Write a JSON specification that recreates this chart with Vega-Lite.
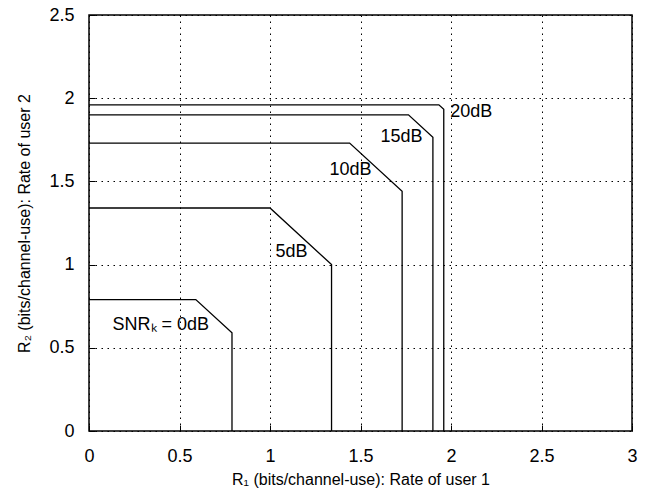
{
  "$schema": "https://vega.github.io/schema/vega-lite/v6.json",
  "width": 543,
  "height": 416,
  "autosize": "none",
  "padding": {"left": 89, "top": 15, "right": 21, "bottom": 67},
  "background": "white",
  "config": {
    "font": "Liberation Sans",
    "view": {"stroke": "black", "strokeWidth": 1.5},
    "axis": {
      "domain": false,
      "grid": true,
      "gridColor": "#000000",
      "gridDash": [1.5, 4.5],
      "gridWidth": 1,
      "gridOpacity": 1,
      "ticks": true,
      "tickSize": -6,
      "tickColor": "black",
      "tickWidth": 1,
      "labelFont": "Liberation Sans",
      "labelFontSize": 18,
      "labelColor": "black",
      "titleFont": "Liberation Sans",
      "titleFontSize": 16,
      "titleFontWeight": "normal",
      "titleColor": "black",
      "labelOverlap": false,
      "labelFlush": false,
      "labelBound": false
    }
  },
  "datasets": {
    "curves": [
      {"snr": "0dB", "o": 1, "r1": 0, "r2": 0.79},
      {"snr": "0dB", "o": 2, "r1": 0.59, "r2": 0.79},
      {"snr": "0dB", "o": 3, "r1": 0.79, "r2": 0.59},
      {"snr": "0dB", "o": 4, "r1": 0.79, "r2": 0},
      {"snr": "5dB", "o": 1, "r1": 0, "r2": 1.34},
      {"snr": "5dB", "o": 2, "r1": 1.0, "r2": 1.34},
      {"snr": "5dB", "o": 3, "r1": 1.34, "r2": 1.0},
      {"snr": "5dB", "o": 4, "r1": 1.34, "r2": 0},
      {"snr": "10dB", "o": 1, "r1": 0, "r2": 1.73},
      {"snr": "10dB", "o": 2, "r1": 1.44, "r2": 1.73},
      {"snr": "10dB", "o": 3, "r1": 1.73, "r2": 1.44},
      {"snr": "10dB", "o": 4, "r1": 1.73, "r2": 0},
      {"snr": "15dB", "o": 1, "r1": 0, "r2": 1.90},
      {"snr": "15dB", "o": 2, "r1": 1.765, "r2": 1.90},
      {"snr": "15dB", "o": 3, "r1": 1.90, "r2": 1.765},
      {"snr": "15dB", "o": 4, "r1": 1.90, "r2": 0},
      {"snr": "20dB", "o": 1, "r1": 0, "r2": 1.96},
      {"snr": "20dB", "o": 2, "r1": 1.933, "r2": 1.96},
      {"snr": "20dB", "o": 3, "r1": 1.96, "r2": 1.933},
      {"snr": "20dB", "o": 4, "r1": 1.96, "r2": 0}
    ],
    "labels": [
      {"text": "20dB", "r1": 1.996, "r2": 1.919},
      {"text": "15dB", "r1": 1.61, "r2": 1.769},
      {"text": "10dB", "r1": 1.329, "r2": 1.569},
      {"text": "5dB", "r1": 1.03, "r2": 1.078},
      {"text": "SNRₖ = 0dB", "r1": 0.13, "r2": 0.637}
    ]
  },
  "layer": [
    {
      "data": {"name": "curves"},
      "mark": {"type": "line", "color": "black", "strokeWidth": 1.3, "clip": false},
      "encoding": {
        "x": {
          "field": "r1", "type": "quantitative",
          "scale": {"domain": [0, 3], "nice": false, "zero": false},
          "axis": {
            "values": [0, 0.5, 1, 1.5, 2, 2.5, 3],
            "format": "~g",
            "labelPadding": 22,
            "title": "R₁ (bits/channel-use): Rate of user 1",
            "titlePadding": 6
          }
        },
        "y": {
          "field": "r2", "type": "quantitative",
          "scale": {"domain": [0, 2.5], "nice": false, "zero": false},
          "axis": {
            "values": [0, 0.5, 1, 1.5, 2, 2.5],
            "format": "~g",
            "labelPadding": 21,
            "title": "R₂ (bits/channel-use): Rate of user 2",
            "titlePadding": 16
          }
        },
        "detail": {"field": "snr"},
        "order": {"field": "o", "type": "quantitative"}
      }
    },
    {
      "data": {"name": "labels"},
      "mark": {"type": "text", "align": "left", "baseline": "middle", "font": "Liberation Sans", "fontSize": 18, "color": "black"},
      "encoding": {
        "x": {"field": "r1", "type": "quantitative"},
        "y": {"field": "r2", "type": "quantitative"},
        "text": {"field": "text"}
      }
    }
  ]
}
